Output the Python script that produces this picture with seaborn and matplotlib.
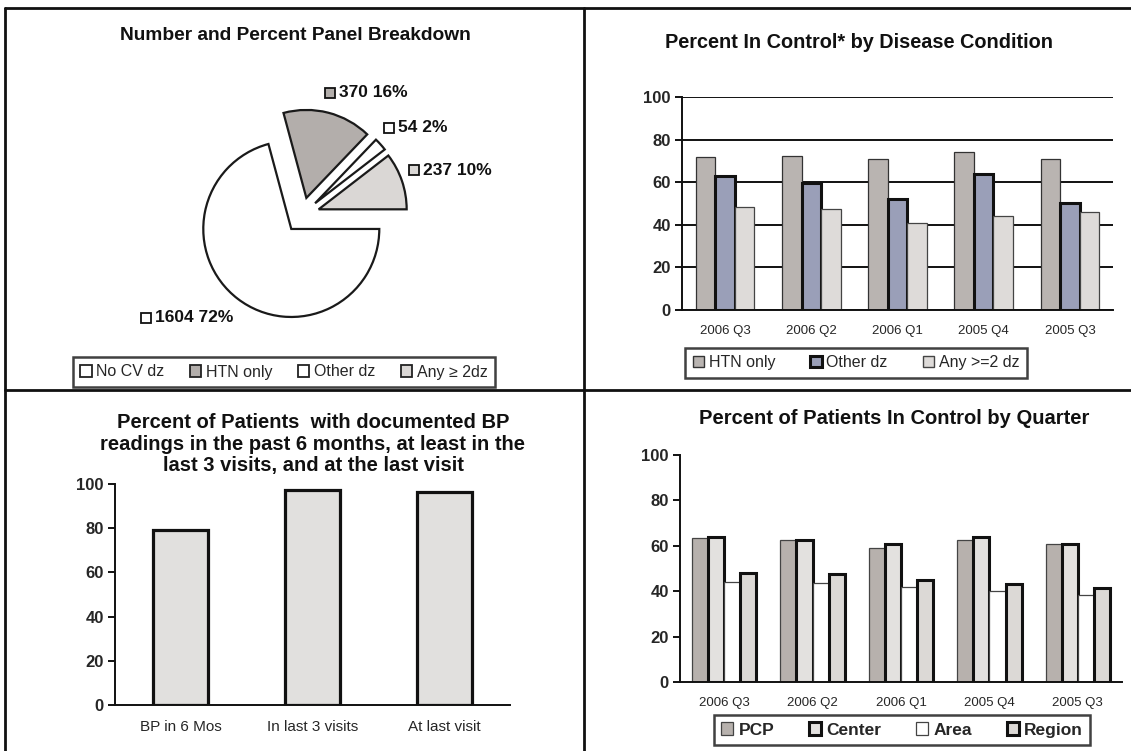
import numpy as np
import pandas as pd
import seaborn as sns
import matplotlib.pyplot as plt
from matplotlib.patches import Patch
from matplotlib.lines import Line2D

# ---- data ----
pie_labels = ['No CV dz', 'HTN only', 'Other dz', 'Any \u2265 2dz']
pie_counts = [1604, 370, 54, 237]
pie_pcts = ['72%', '16%', '2%', '10%']

quarters = ['2006 Q3', '2006 Q2', '2006 Q1', '2005 Q4', '2005 Q3']

dz_series = ['HTN only', 'Other dz', 'Any >=2 dz']
htn_only = [72, 72.5, 71, 74, 71]
other_dz = [63, 59.5, 52, 64, 50]
any_2dz = [48.5, 47.5, 41, 44, 46]

bp_cats = ['BP in 6 Mos', 'In last 3 visits', 'At last visit']
bp_vals = [79, 97.5, 96.5]

lvl_series = ['PCP', 'Center', 'Area', 'Region']
pcp = [63.5, 62.5, 59, 62.5, 61]
center = [64, 62.5, 61, 64, 61]
area = [44, 43.5, 42, 40, 38.5]
region = [48, 47.5, 45, 43, 41.5]

sns.set_theme(style="white")
plt.rcParams['font.family'] = ['Liberation Sans', 'DejaVu Sans']

W, H = 1131, 751
fig = plt.figure(figsize=(W / 100, H / 100), dpi=100)


def px_axes(left, top, right, bottom):
    return fig.add_axes([left / W, 1 - bottom / H, (right - left) / W, (bottom - top) / H])


def style_bar_axes(ax, ncat, xsize):
    ax.set_ylim(0, 100)
    ax.set_xlim(-0.5, ncat - 0.5)
    ax.set_yticks(range(0, 101, 20))
    for s in ['top', 'right']:
        ax.spines[s].set_visible(False)
    for s in ['left', 'bottom']:
        ax.spines[s].set_color('#111111')
        ax.spines[s].set_linewidth(1.4)
    ax.set_xticks(np.arange(-0.5, ncat, 1.0), minor=True)
    ax.tick_params(axis='x', which='major', length=0, pad=11, labelsize=xsize)
    ax.tick_params(axis='x', which='minor', length=5, width=1.4, direction='out', color='#111111')
    ax.tick_params(axis='y', length=5, width=1.4, direction='out', color='#111111', labelsize=12, pad=3)
    ax.tick_params(left=True, bottom=True)
    for t in ax.get_yticklabels():
        t.set_fontweight('bold')
    ax.set_xlabel('')
    ax.set_ylabel('')


def set_edges(ax, edges):
    for cont, (ec, lw) in zip(ax.containers, edges):
        for p in cont:
            p.set_edgecolor(ec)
            p.set_linewidth(lw)


# ---- top-left: pie ----
pie_colors = ['#ffffff', '#b3aeab', '#ffffff', '#dad7d5']
r = 88
cx, cy = 302, 215
axp = px_axes(cx - 1.25 * r, cy - 1.25 * r, cx + 1.25 * r, cy + 1.25 * r)
axp.pie(pie_counts, colors=pie_colors, startangle=0, counterclock=False,
        explode=[0.2] * 4, radius=1,
        wedgeprops=dict(edgecolor='#1a1a1a', linewidth=1.6))
axp.set_xlim(-1.25, 1.25)
axp.set_ylim(-1.25, 1.25)
axp.set_aspect('equal')
# label anchors (axes data units, pie radius = 1)
lab_pos = [(-1.77, -1.17), (0.32, 1.39), (0.99, 0.99), (1.27, 0.51)]
for (lx, ly), n, pc, col in zip(lab_pos, pie_counts, pie_pcts, pie_colors):
    axp.plot(lx, ly, 's', ms=7, mfc=col, mec='#111111', mew=1.3, clip_on=False)
    axp.text(lx + 0.1, ly, f'{n} {pc}', ha='left', va='center', fontsize=12.5,
             fontweight='bold', color='#111111', clip_on=False)
fig.text(295 / W, 1 - 35 / H, 'Number and Percent Panel Breakdown', ha='center', va='center',
         fontsize=13.8, fontweight='bold', color='#111111')
h1 = [Patch(facecolor=c, edgecolor='#222222', linewidth=1.3) for c in pie_colors]
fig.legend(h1, pie_labels, loc='center', bbox_to_anchor=(284 / W, 1 - 372 / H), ncol=4,
           fontsize=11.5, frameon=True, fancybox=False, edgecolor='#111111',
           handlelength=0.7, handleheight=0.7, handletextpad=0.3, columnspacing=1.6,
           borderpad=0.45).get_frame().set_linewidth(1.8)

# ---- top-right: by disease condition ----
df1 = pd.DataFrame({'Quarter': quarters, 'HTN only': htn_only, 'Other dz': other_dz,
                    'Any >=2 dz': any_2dz}).melt(id_vars='Quarter', var_name='Series',
                                                 value_name='Percent')
dz_colors = ['#b9b4b1', '#9a9fb8', '#dedbd9']
ax1 = px_axes(682, 97, 1113, 310)
ax1.yaxis.grid(True, color='#111111', linewidth=1.4)
ax1.set_axisbelow(True)
sns.barplot(data=df1, x='Quarter', y='Percent', hue='Series', hue_order=dz_series,
            palette=dz_colors, saturation=1, width=0.68, ax=ax1, legend=False)
set_edges(ax1, [('#333333', 0.9), ('#111111', 2.2), ('#444444', 0.9)])
style_bar_axes(ax1, len(quarters), 9.5)
fig.text(859 / W, 1 - 43 / H, 'Percent In Control* by Disease Condition', ha='center',
         va='center', fontsize=14.3, fontweight='bold', color='#111111')
h2 = [Patch(facecolor=c, edgecolor=ec, linewidth=lw) for c, ec, lw in
      zip(dz_colors, ['#333333', '#111111', '#444444'], [1.0, 2.2, 1.0])]
fig.legend(h2, dz_series, loc='center', bbox_to_anchor=(856 / W, 1 - 363 / H), ncol=3,
           fontsize=11.5, frameon=True, fancybox=False, edgecolor='#111111',
           handlelength=0.7, handleheight=0.7, handletextpad=0.3, columnspacing=2.2,
           borderpad=0.5).get_frame().set_linewidth(1.8)

# ---- bottom-left: documented BP ----
df2 = pd.DataFrame({'Measure': bp_cats, 'Percent': bp_vals})
ax2 = px_axes(115, 484, 510, 705)
sns.barplot(data=df2, x='Measure', y='Percent', color='#e1e0de', saturation=1,
            width=0.42, ax=ax2)
for p in ax2.patches:
    p.set_edgecolor('#111111')
    p.set_linewidth(2.3)
style_bar_axes(ax2, len(bp_cats), 11)
fig.text(313 / W, 1 - 444 / H,
         'Percent of Patients  with documented BP\nreadings in the past 6 months, at least in the\nlast 3 visits, and at the last visit',
         ha='center', va='center', fontsize=14.5, fontweight='bold', color='#111111',
         linespacing=1.2)

# ---- bottom-right: by quarter ----
df3 = pd.DataFrame({'Quarter': quarters, 'PCP': pcp, 'Center': center, 'Area': area,
                    'Region': region}).melt(id_vars='Quarter', var_name='Series',
                                            value_name='Percent')
lvl_colors = ['#b7b1ad', '#e3e1df', '#ffffff', '#dcd9d6']
lvl_edges = [('#444444', 0.9), ('#111111', 2.2), ('#444444', 0.9), ('#111111', 2.2)]
ax3 = px_axes(680, 455, 1122, 682)
sns.barplot(data=df3, x='Quarter', y='Percent', hue='Series', hue_order=lvl_series,
            palette=lvl_colors, saturation=1, width=0.73, ax=ax3, legend=False)
set_edges(ax3, lvl_edges)
style_bar_axes(ax3, len(quarters), 9.5)
fig.text(894 / W, 1 - 418 / H, 'Percent of Patients In Control by Quarter', ha='center',
         va='center', fontsize=14.5, fontweight='bold', color='#111111')
h3 = [Patch(facecolor=c, edgecolor=ec, linewidth=lw) for c, (ec, lw) in zip(lvl_colors, lvl_edges)]
leg3 = fig.legend(h3, lvl_series, loc='center', bbox_to_anchor=(902 / W, 1 - 730 / H), ncol=4,
                  fontsize=12.5, frameon=True, fancybox=False, edgecolor='#111111',
                  handlelength=0.7, handleheight=0.7, handletextpad=0.3, columnspacing=2.0,
                  borderpad=0.4)
leg3.get_frame().set_linewidth(1.8)
for t in leg3.get_texts():
    t.set_fontweight('bold')

# ---- panel frame lines ----
for xs, ys in [((5, W), (8, 8)), ((5, 5), (8, H)), ((584, 584), (8, H)), ((5, W), (390, 390))]:
    fig.add_artist(Line2D([x / W for x in xs], [1 - y / H for y in ys], color='#111111',
                          linewidth=2.0))

fig.savefig('out.png', dpi=100)
